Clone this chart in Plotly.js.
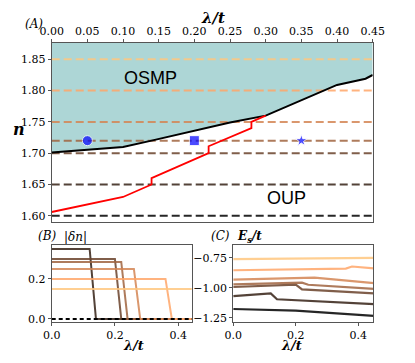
<!DOCTYPE html>
<html>
<head>
<meta charset="utf-8">
<script src="https://cdn.plot.ly/plotly-3.0.1.min.js"></script>
<style>
  body { margin: 0; padding: 0; background: #fff; }
  #chart { width: 415px; height: 363px; }
</style>
</head>
<body>
<div id="chart"></div>
<script>
// Fillings n and their copper colours
const fillings = [1.60, 1.65, 1.70, 1.72, 1.75, 1.80, 1.85];
const copper = ['#000000', '#352115', '#6a422a', '#a0643f', '#d48554', '#ffa669', '#ffc77f'];

// Panel A: phase boundary (black) and red line
const boundaryLam = [0, 0.10, 0.14, 0.20, 0.25, 0.30, 0.35, 0.40, 0.44, 0.45];
const boundaryN = [1.701, 1.710, 1.720, 1.736, 1.749, 1.760, 1.785, 1.809, 1.819, 1.825];
const redLam = [0, 0.10, 0.14, 0.14, 0.22, 0.22, 0.28, 0.28, 0.30];
const redN = [1.606, 1.630, 1.650, 1.660, 1.700, 1.711, 1.740, 1.750, 1.760];
const markerLam = [0.05, 0.20, 0.35];
const markerN = [1.72, 1.72, 1.72];
const markerSymbols = ['circle', 'square', 'star'];

// Panel B: |delta n| vs lambda/t, one series per filling
const dnLam = [
    [0, 0.45],
    [0, 0.12, 0.14, 0.45],
    [0, 0.20, 0.22, 0.45],
    [0, 0.22, 0.24, 0.45],
    [0, 0.26, 0.28, 0.45],
    [0, 0.36, 0.38, 0.45],
    [0, 0.45]
];
const dnVal = [
    [0, 0],
    [0.35, 0.35, 0, 0],
    [0.30, 0.30, 0, 0],
    [0.285, 0.285, 0, 0],
    [0.25, 0.25, 0, 0],
    [0.20, 0.20, 0, 0],
    [0.15, 0.15]
];

// Panel C: E_s/t vs lambda/t
const esLam = [
    [0, 0.20, 0.45],
    [0, 0.12, 0.14, 0.45],
    [0, 0.20, 0.22, 0.45],
    [0, 0.22, 0.24, 0.45],
    [0, 0.26, 0.45],
    [0, 0.36, 0.38, 0.45],
    [0, 0.45]
];
const esVal = [
    [-1.177, -1.191, -1.235],
    [-1.070, -1.048, -1.096, -1.137],
    [-0.994, -0.975, -1.014, -1.047],
    [-0.972, -0.958, -0.975, -1.010],
    [-0.933, -0.916, -0.962],
    [-0.854, -0.840, -0.823, -0.838],
    [-0.761, -0.751]
];

const yRangeA = [1.590, 1.876];
const serif = 'DejaVu Serif';

const traces = [];

// shaded OSMP region: between boundary and top of plot
traces.push({
    x: boundaryLam, y: boundaryN, xaxis: 'x', yaxis: 'y',
    mode: 'lines', line: { width: 0 }, hoverinfo: 'skip'
});
traces.push({
    x: boundaryLam, y: boundaryLam.map(() => yRangeA[1]), xaxis: 'x', yaxis: 'y',
    mode: 'lines', line: { width: 0 }, fill: 'tonexty',
    fillcolor: 'rgba(0,128,128,0.32)', hoverinfo: 'skip'
});

// dashed horizontal lines at each filling
fillings.forEach((n, i) => {
    traces.push({
        x: [0, 0.45], y: [n, n], xaxis: 'x', yaxis: 'y',
        mode: 'lines', line: { color: copper[i], width: 2, dash: '8px,4px' },
        opacity: 0.85, hoverinfo: 'skip'
    });
});

traces.push({
    x: boundaryLam, y: boundaryN, xaxis: 'x', yaxis: 'y',
    mode: 'lines', line: { color: '#000', width: 2 }
});
traces.push({
    x: redLam, y: redN, xaxis: 'x', yaxis: 'y',
    mode: 'lines', line: { color: '#ff0000', width: 1.8 }
});
traces.push({
    x: markerLam, y: markerN, xaxis: 'x', yaxis: 'y',
    mode: 'markers',
    marker: { color: '#0000ff', symbol: markerSymbols, size: [10, 10, 9] }
});

// Panel B
fillings.forEach((n, i) => {
    if (i === 0) return;
    traces.push({
        x: dnLam[i], y: dnVal[i], xaxis: 'x2', yaxis: 'y2',
        mode: 'lines', line: { color: copper[i], width: 2 }, opacity: 0.85
    });
});
traces.push({
    x: dnLam[0], y: dnVal[0], xaxis: 'x2', yaxis: 'y2',
    mode: 'lines', line: { color: copper[0], width: 2, dash: '4px,3px' }
});

// Panel C
fillings.forEach((n, i) => {
    traces.push({
        x: esLam[i], y: esVal[i], xaxis: 'x3', yaxis: 'y3',
        mode: 'lines', line: { color: copper[i], width: 2.2 }, opacity: 0.85
    });
});

const tickFont = { family: serif, size: 11, color: '#000' };
const frame = {
    showline: true, mirror: true, linecolor: '#555', linewidth: 1,
    ticks: 'outside', ticklen: 3, tickcolor: '#555', automargin: false,
    showgrid: false, zeroline: false, tickfont: tickFont
};

const layout = {
    width: 415, height: 363,
    margin: { l: 0, r: 0, t: 0, b: 0, pad: 0, autoexpand: false },
    paper_bgcolor: '#fff', plot_bgcolor: '#fff',
    showlegend: false,
    xaxis: Object.assign({}, frame, {
        domain: [0.1246, 0.898], range: [0, 0.45], side: 'top',
        dtick: 0.05, tickformat: '.2f'
    }),
    yaxis: Object.assign({}, frame, {
        domain: [0.3884, 0.8815], range: yRangeA,
        dtick: 0.05, tickformat: '.2f'
    }),
    xaxis2: Object.assign({}, frame, {
        domain: [0.1246, 0.462], range: [0, 0.443], anchor: 'y2',
        tickvals: [0, 0.2, 0.4], tickformat: '.1f'
    }),
    yaxis2: Object.assign({}, frame, {
        domain: [0.1138, 0.325], range: [-0.014, 0.37], anchor: 'x2',
        tickvals: [0, 0.2], tickformat: '.1f'
    }),
    xaxis3: Object.assign({}, frame, {
        domain: [0.562, 0.8995], range: [0, 0.448], anchor: 'y3',
        tickvals: [0, 0.2, 0.4], tickformat: '.1f'
    }),
    yaxis3: Object.assign({}, frame, {
        domain: [0.1138, 0.325], range: [-1.283, -0.644], anchor: 'x3',
        tickvals: [-0.75, -1.0, -1.25], tickformat: '.2f'
    }),
    annotations: [
        { text: 'OSMP', x: 0.139, y: 1.820, xref: 'x', yref: 'y', showarrow: false,
          font: { family: 'Liberation Sans', size: 18, color: '#000' } },
        { text: 'OUP', x: 0.3285, y: 1.628, xref: 'x', yref: 'y', showarrow: false,
          font: { family: 'Liberation Sans', size: 18, color: '#000' } },
        // axis titles and panel labels, pixel positions (x centre, y bottom), converted below
        { text: '<b><i>λ/t</i></b>', x: 213, y: 28, size: 15 },
        { text: '<b><i>n</i></b>', x: 12, y: 140, size: 16 },
        { text: '<b><i>λ/t</i></b>', x: 122, y: 354, size: 13 },
        { text: '<b><i>λ/t</i></b>', x: 303, y: 354, size: 13 },
        { text: '<i>(A)</i>', x: 24, y: 32, size: 12 },
        { text: '<i>(B)</i>', x: 37, y: 244, size: 12 },
        { text: '|<i>δn</i>|', x: 63, y: 245, size: 12 },
        { text: '<i>(C)</i>', x: 220, y: 244, size: 12 },
        { text: '<b><i>E<sub>s</sub>/t</i></b>', x: 249, y: 246, size: 12 }
    ]
};

// pixel-positioned annotations -> paper fractions
layout.annotations.forEach(a => {
    if (a.xref === undefined) {
        a.x = a.x / 415;
        a.y = 1 - a.y / 363;
        a.xref = 'paper';
        a.yref = 'paper';
        a.yanchor = 'bottom';
        a.borderpad = 0;
        a.showarrow = false;
        a.font = { family: serif, size: a.size, color: '#000' };
        delete a.size;
    }
});

Plotly.newPlot('chart', traces, layout, { displayModeBar: false, staticPlot: true });
</script>
</body>
</html>
